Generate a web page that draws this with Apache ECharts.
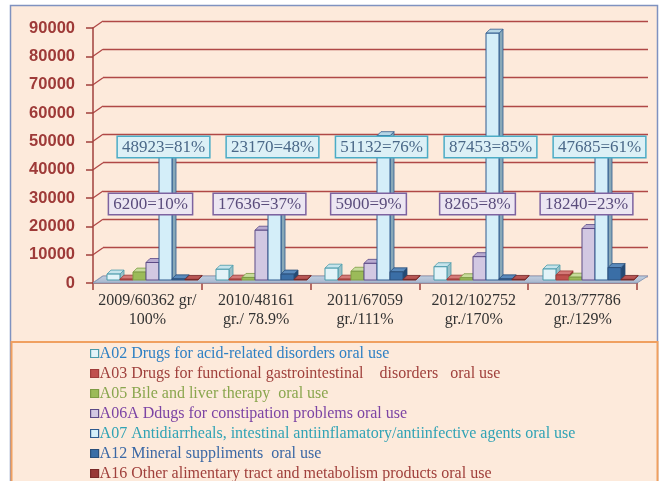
<!DOCTYPE html>
<html>
<head>
<meta charset="utf-8">
<script src="https://cdn.jsdelivr.net/npm/echarts@6/dist/echarts.min.js"></script>
<style>
html,body{margin:0;padding:0;background:#ffffff;}
#chart{width:662px;height:481px;}
</style>
</head>
<body>
<div id="chart"></div>
<script>
// ---- data ----
const categories = ['2009/60362 gr/\n100%', '2010/48161\ngr./ 78.9%', '2011/67059\ngr./111%', '2012/102752\ngr./170%', '2013/77786\ngr./129%'];
const seriesNames = [
  'A02 Drugs for acid-related disorders oral use',
  'A03 Drugs for functional gastrointestinal    disorders   oral use',
  'A05 Bile and liver therapy  oral use',
  'A06A Ddugs for constipation problems oral use',
  'A07 Antidiarrheals, intestinal antiinflamatory/antiinfective agents oral use',
  'A12 Mineral suppliments  oral use',
  'A16 Other alimentary tract and metabolism products oral use'
];
const a02 = [2100, 3800, 4200, 4700, 3900];
const a03 = [300, 300, 300, 300, 1800];
const a05 = [2800, 900, 3100, 800, 1000];
const a06a = [6200, 17636, 5900, 8265, 18240];
const a07 = [48923, 23170, 51132, 87453, 47685];
const a12 = [400, 2100, 2900, 400, 4400];
const a16 = [200, 200, 200, 200, 200];
const a07Pct = [81, 48, 76, 85, 61];
const a06aPct = [10, 37, 9, 8, 23];
const yMax = 90000, yStep = 10000;

const allValues = [a02, a03, a05, a06a, a07, a12, a16];

// ---- styles ----
const styles = [
  {front:'#e2f3f8', side:'#98c0c8', top:'#c6e4ec', stroke:'#4a9aaa', legendText:'#2f80c4'},
  {front:'#c0504d', side:'#8a3432', top:'#d47a78', stroke:'#a03c3a', legendText:'#a0403c'},
  {front:'#9bbb59', side:'#70903a', top:'#c8dc9c', stroke:'#7e9c44', legendText:'#8aa64e'},
  {front:'#d2c8e2', side:'#9c8cb6', top:'#b8aad0', stroke:'#5c4a86', legendText:'#7c44a4'},
  {front:'#d4eef9', side:'#88a8b8', top:'#b6d6e6', stroke:'#2e5a8e', legendText:'#31a3b5'},
  {front:'#3a6ea6', side:'#244a74', top:'#5a8abc', stroke:'#2a4f7a', legendText:'#3b68a5'},
  {front:'#983836', side:'#6a2422', top:'#b85654', stroke:'#7a2a28', legendText:'#a0403c'}
];
const DX = 4, DY = -4;
const AXIS_RED = '#a0403c';

function makeBarSeries(s) {
  const st = styles[s];
  return {
    type: 'custom',
    name: seriesNames[s],
    xAxisIndex: 2, yAxisIndex: 2,
    itemStyle: {color: st.front, borderColor: st.stroke},
    data: allValues[s].map((v, i) => [i, v]),
    renderItem: function (params, api) {
      const ci = api.value(0), v = api.value(1);
      const base = api.coord([ci, 0]);
      const top = api.coord([ci, v]);
      const catW = api.size([1, 0])[0];
      const bw = catW * 0.835 / 7;
      const x0 = base[0] - 3.5 * bw + s * bw;
      const x1 = x0 + bw;
      const yt = top[1], yb = base[1];
      return {
        type: 'group',
        children: [
          {type: 'polygon', shape: {points: [[x1, yt], [x1 + DX, yt + DY], [x1 + DX, yb + DY], [x1, yb]]},
           style: {fill: st.side, stroke: st.stroke, lineWidth: 0.8}},
          {type: 'polygon', shape: {points: [[x0, yt], [x0 + DX, yt + DY], [x1 + DX, yt + DY], [x1, yt]]},
           style: {fill: st.top, stroke: st.stroke, lineWidth: 0.8}},
          {type: 'rect', shape: {x: x0, y: yt, width: bw, height: yb - yt},
           style: {fill: st.front, stroke: st.stroke, lineWidth: 1}}
        ]
      };
    }
  };
}

function makeLabelSeries(s, values, pcts, labelValue, box) {
  return {
    type: 'custom',
    xAxisIndex: 2, yAxisIndex: 2,
    z: 10,
    silent: true,
    data: values.map((v, i) => [i, v, pcts[i]]),
    renderItem: function (params, api) {
      const ci = api.value(0);
      const base = api.coord([ci, labelValue]);
      const catW = api.size([1, 0])[0];
      const bw = catW * 0.835 / 7;
      const cx = base[0] - 3.5 * bw + s * bw + bw / 2 - 2;
      return {
        type: 'text',
        x: cx, y: base[1],
        style: {
          text: api.value(1) + '=' + api.value(2) + '%',
          font: '17px "Liberation Serif", "Times New Roman", serif',
          fill: box.color,
          align: 'center', verticalAlign: 'middle',
          backgroundColor: box.bg,
          borderColor: box.border,
          borderWidth: 1.5,
          padding: [2, 4, 1, 4]
        }
      };
    }
  };
}

const chart = echarts.init(document.getElementById('chart'), null, {renderer: 'canvas'});

const series = [];
for (let s = 0; s < 7; s++) series.push(makeBarSeries(s));
series.push(makeLabelSeries(4, a07, a07Pct, 47100, {color: '#4a6888', bg: '#dcf0f6', border: '#4bacc6'}));
series.push(makeLabelSeries(3, a06a, a06aPct, 26900, {color: '#5a4c7c', bg: '#ece6f2', border: '#7d63a0'}));

const option = {
  backgroundColor: '#ffffff',
  animation: false,
  graphic: [
    {type: 'rect', z: -10, shape: {x: 10.5, y: 5.5, width: 647, height: 490},
     style: {fill: '#fdeadb', stroke: '#7f92c0', lineWidth: 1.5}},
    {type: 'rect', z: -9, shape: {x: 11.5, y: 342, width: 646, height: 150},
     style: {fill: '#fdeadb', stroke: '#f0a060', lineWidth: 2}}
  ],
  grid: [
    {left: 103, right: 14, top: 21, bottom: 205}, // back wall
    {left: 93, right: 25, top: 28, bottom: 198},  // front axes
    {left: 98, right: 19, top: 26, bottom: 201}   // bars
  ],
  xAxis: [
    {type: 'category', gridIndex: 0, data: categories, show: false},
    {type: 'category', gridIndex: 1, data: categories, boundaryGap: true,
     axisLine: {show: true, lineStyle: {color: AXIS_RED, width: 1.5}},
     axisTick: {show: true, length: 7, inside: false, lineStyle: {color: AXIS_RED, width: 1.5}},
     axisLabel: {interval: 0, margin: 8, color: '#333333', fontSize: 16, lineHeight: 19,
       fontFamily: '"Liberation Serif", "Times New Roman", serif'}},
    {type: 'category', gridIndex: 2, data: categories, show: false}
  ],
  yAxis: [
    {type: 'value', gridIndex: 0, min: 0, max: yMax, interval: yStep,
     axisLine: {show: false}, axisTick: {show: false}, axisLabel: {show: false},
     splitLine: {show: true, lineStyle: {color: '#b04846', width: 1.3}}},
    {type: 'value', gridIndex: 1, min: 0, max: yMax, interval: yStep,
     axisLine: {show: true, lineStyle: {color: AXIS_RED, width: 1.5}},
     axisTick: {show: true, length: 7, lineStyle: {color: AXIS_RED, width: 1.5}},
     splitLine: {show: false},
     axisLabel: {margin: 18, color: '#9e3a38', fontSize: 16.5, fontWeight: 'bold',
       fontFamily: '"Liberation Sans", Arial, sans-serif',
       formatter: function (v) { return String(v); }}},
    {type: 'value', gridIndex: 2, min: 0, max: yMax, interval: yStep, show: false, splitLine: {show: false}}
  ],
  legend: {
    orient: 'vertical',
    left: 85, top: 340, height: 220,
    itemWidth: 8, itemHeight: 8, itemGap: 3,
    selectedMode: false,
    textStyle: {fontSize: 16, lineHeight: 17, fontFamily: '"Liberation Serif", "Times New Roman", serif', padding: [0, 0, 0, -4]},
    data: seriesNames.map((n, s) => ({
      name: n, icon: 'rect',
      itemStyle: {color: styles[s].front, borderColor: styles[s].stroke, borderWidth: 1.2},
      textStyle: {color: styles[s].legendText}
    }))
  },
  series: series
};
chart.setOption(option);

// floor and slanted connectors from front axis to back wall (derived from axis scales)
const g = [];
function yF(v) { return chart.convertToPixel({yAxisIndex: 1}, v); }
function yB(v) { return chart.convertToPixel({yAxisIndex: 0}, v); }
const frontL = 93, frontR = 662 - 25, backL = 103, backR = 662 - 14;
g.push({type: 'polygon', z: 1, shape: {points: [[frontL, yF(0)], [frontR, yF(0)], [backR, yB(0)], [backL, yB(0)]]},
  style: {fill: new echarts.graphic.LinearGradient(0, 0, 0, 1, [{offset: 0, color: '#c4d0e0'}, {offset: 1, color: '#a4b4cc'}]),
          stroke: '#8a9cb8', lineWidth: 1}});
for (let v = 0; v <= yMax; v += yStep) {
  g.push({type: 'line', z: 0, shape: {x1: frontL, y1: yF(v), x2: backL, y2: yB(v)},
    style: {stroke: v === 0 ? '#8a9cb8' : '#b04846', lineWidth: 1.3}});
}
chart.setOption({graphic: option.graphic.concat(g)});
</script>
</body>
</html>
